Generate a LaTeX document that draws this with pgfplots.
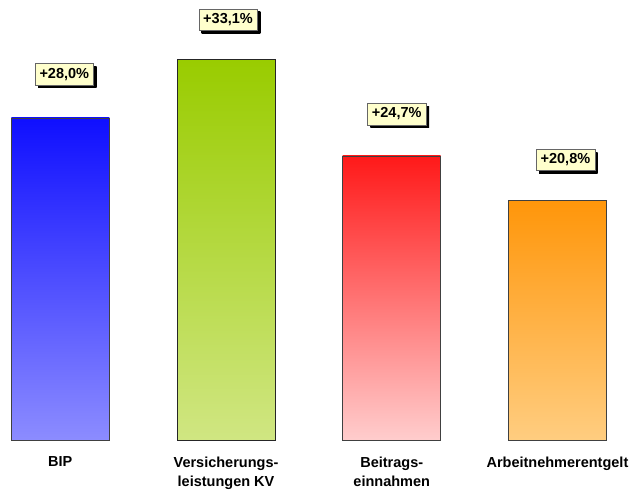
\documentclass[border=0pt]{standalone}
\usepackage{fontspec}
\setmainfont{Liberation Sans}
\usepackage{pgfplots}
\pgfplotsset{compat=1.18}

\definecolor{blueTop}{RGB}{15,15,255}
\definecolor{blueBot}{RGB}{140,140,255}
\definecolor{greenTop}{RGB}{153,204,0}
\definecolor{greenBot}{RGB}{208,230,130}
\definecolor{redTop}{RGB}{255,25,25}
\definecolor{redBot}{RGB}{255,205,205}
\definecolor{orangeTop}{RGB}{255,150,10}
\definecolor{orangeBot}{RGB}{255,205,128}
\definecolor{boxFill}{RGB}{255,255,204}

\tikzset{
  valbox/.style={font=\bfseries\fontsize{14.5}{16}\selectfont, text=black,
    fill=boxFill, draw=black!60, line width=0.4pt,
    inner xsep=4.5pt, inner ysep=4.5pt, anchor=south,
    preaction={top color=black, bottom color=black, draw=none,
      transform canvas={xshift=3pt, yshift=-3pt}}},
}

\begin{document}
\begin{tikzpicture}
\useasboundingbox (0,0) rectangle (632pt,490pt);
\begin{axis}[
    at={(0,0)}, anchor=south west,
    scale only axis,
    width=632pt, height=490pt,
    xmin=-0.364, xmax=3.45,
    ymin=-4.348, ymax=38.26,
    axis line style={draw=none},
    ybar, bar width=98pt, bar shift=0pt,
    xtick={0,1,2,3},
    xticklabels={BIP,{Versicherungs-\\leistungen KV},{Beitrags-\\einnahmen},Arbeitnehmerentgelt},
    xticklabel style={font=\bfseries\fontsize{14.5}{19}\selectfont, align=center,
        anchor=north, inner sep=2pt, yshift=35.5pt},
    ytick=\empty,
    major tick length=0pt,
    tick style={draw=none},
    clip=false,
    /pgf/number format/assume math mode=true,
    nodes near coords={+\pgfmathprintnumber[fixed,fixed zerofill,precision=1,use comma]{\pgfplotspointmeta}\%},
    every node near coord/.append style={valbox},
]
\addplot[draw=black!75, line width=0.7pt, top color=blueTop, bottom color=blueBot,
    every node near coord/.append style={xshift=4pt, yshift=33pt}]
    coordinates {(0,28.0)};
\addplot[draw=black!85, line width=0.7pt, top color=greenTop, bottom color=greenBot,
    every node near coord/.append style={xshift=2pt, yshift=29pt}]
    coordinates {(1,33.1)};
\addplot[draw=black!75, line width=0.7pt, top color=redTop, bottom color=redBot,
    every node near coord/.append style={xshift=5pt, yshift=31pt}]
    coordinates {(2,24.7)};
\addplot[draw=black!75, line width=0.7pt, top color=orangeTop, bottom color=orangeBot,
    every node near coord/.append style={xshift=8pt, yshift=30pt}]
    coordinates {(3,20.8)};
\end{axis}
\end{tikzpicture}
\end{document}
